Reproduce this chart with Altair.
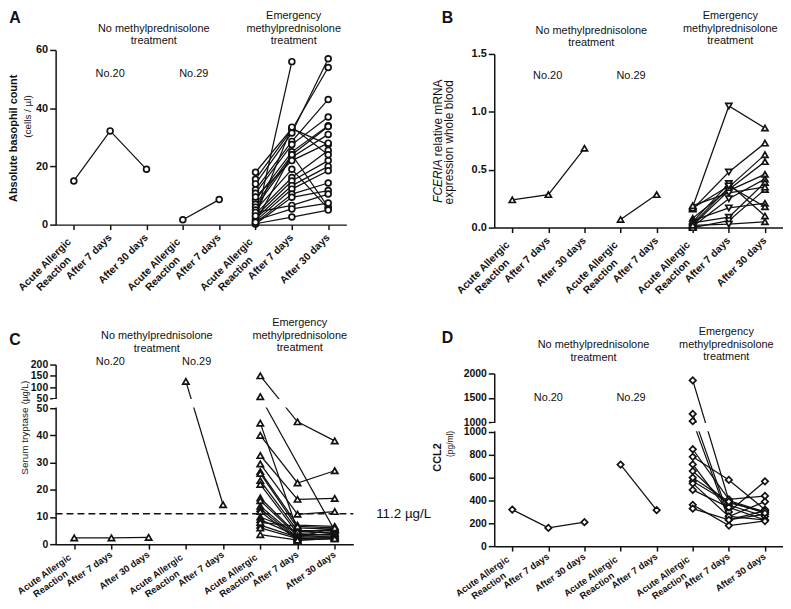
import altair as alt
import pandas as pd

FONT = "Liberation Sans"
INK = "#111111"

# ---------------- category axis (shared by all panels) ----------------
X_LINE1 = ["Acute Allergic", "After 7 days", "After 30 days", "Acute Allergic",
           "After 7 days", "Acute Allergic", "After 7 days", "After 30 days"]
X_LINE2 = ["Reaction", "", "", "Reaction", "", "Reaction", "", ""]

# ---------------- Panel A: absolute basophil count ----------------
A_NO20 = [15, 32.2, 19]
A_NO29 = [1.7, 8.6]
A_AAR = [0.5, 18, 15.6, 14, 12, 10.8, 8.5, 7, 6, 5, 3.7, 2.8, 2, 1.2, 0.6, 0.2, 4.2, 1.5, 0.3, 3, 0.8, 9.5]
A_D7 = [56, 33, 32.6, 31.5, 28.6, 27.5, 25, 24, 23.2, 19, 16.2, 15, 13.4, 12.2, 10.5, 9.4, 6.6, 5.4, 2.6, 33.5, 24, 22]
A_D30 = [None, 27.5, 54, 57, 43, 37, 34, 6, 31, 5.5, 25.5, 22, 20, 18.5, 14.3, 11.7, 10.5, 7.4, 5, 24, 33.7, 28]

# ---------------- Panel B: FCER1A mRNA ----------------
B_NO20 = [0.24, 0.285, 0.685]
B_NO29 = [0.07, 0.285]
B_AAR = [0.18, 0.16, 0.05, 0.03, 0.08, 0.02, 0.01, 0.06, 0.04, 0.0, 0.02, 0.17, 0.19]
B_D7 = [1.05, 0.48, 0.38, 0.35, 0.33, 0.32, 0.25, 0.17, 0.09, 0.06, 0.03, 0.36, 0.30]
B_D30 = [0.86, 0.73, 0.10, 0.63, 0.57, 0.46, 0.42, 0.21, 0.39, 0.33, 0.05, 0.18, 0.35]

# ---------------- Panel C: serum tryptase ----------------
C_NO20 = [2.3, 2.3, 2.5]
C_NO29 = [125, 14.5]
C_AAR = [150, 57, 44.5, 40, 32.6, 29.5, 26.7, 26, 23.4, 22, 17, 16, 14, 13, 12, 10, 9, 7, 6, 3.5, 8]
C_D7 = [45, None, 5, 22.5, 16.5, 11, 7, 6, 5, 4, 3.5, 3, 2.5, 2, 1.5, 4.5, 3, 2.5, 2, 1.5, 6.5]
C_D30 = [38, 5, 4, 27, 16.8, 12, 6.5, 5.5, 5, 4.5, 3.5, 3, 6, 2.5, 2, 5.5, 4, 3, 2.5, 2, 6]
C_CUTOFF = 11.2

# ---------------- Panel D: CCL2 ----------------
D_NO20 = [320, 160, 210]
D_NO29 = [715, 315]
D_AAR = [1858, 1169, 1020, 849, 783, 716, 658, 568, 550, 493, 362, 328, 600]
D_D7 = [400, 260, 230, 410, 580, 300, 360, 380, 260, 340, 180, 230, 390]
D_D30 = [300, 230, 280, 440, 320, 568, 260, 300, 390, 230, 220, 310, 290]


def long_df(no20, no29, aar, d7, d30, down7=False):
    rows = []
    for i, v in enumerate(no20):
        rows.append(dict(pid="n20", pos=i, value=v, shape="up"))
    for i, v in enumerate(no29):
        rows.append(dict(pid="n29", pos=3 + i, value=v, shape="up"))
    for k, vals in enumerate(zip(aar, d7, d30)):
        for j, v in enumerate(vals):
            if v is None:
                continue
            shp = "down" if (down7 and j == 1) else "up"
            rows.append(dict(pid=f"e{k}", pos=5 + j, value=v, shape=shp))
    return pd.DataFrame(rows)


LBL = pd.DataFrame({"pos": list(range(8)), "l1": X_LINE1, "l2": X_LINE2})


def make_x():
    return alt.X("pos:O",
                 scale=alt.Scale(type="point", padding=0.5, domain=list(range(8))),
                 axis=alt.Axis(title=None, labels=False, grid=False, domainColor=INK,
                               domainWidth=1.5, tickColor=INK, tickWidth=1.5, tickSize=5))


def text_layer(s, x, y, size=11, weight="normal", align="center", baseline="top",
               angle=0, style="normal", lh=12.5):
    return alt.Chart(pd.DataFrame({"t": [s]})).mark_text(
        font=FONT, fontSize=size, fontWeight=weight, fontStyle=style, align=align,
        baseline=baseline, angle=angle, lineBreak="\n", lineHeight=lh, color=INK
    ).encode(text="t:N", x=alt.value(x), y=alt.value(y))


def panel(df, W, H, yscale, yvalues, label_expr=None, label_size=11, fmt=None,
          gap=None, shape="circle", shape_field=False, size=40, extra=None,
          texts=None, xlab=None):
    ax_kw = dict(title=None, grid=False, values=yvalues, domain=True,
                 domainColor=INK, domainWidth=1.5, tickColor=INK, tickWidth=1.5,
                 tickSize=6, labelFont=FONT, labelFontWeight="bold",
                 labelFontSize=label_size, labelColor=INK, labelPadding=2,
                 labelOverlap=False)
    if label_expr:
        ax_kw["labelExpr"] = label_expr
    if fmt:
        ax_kw["format"] = fmt

    def Y(field="value:Q"):
        return alt.Y(field, scale=yscale, axis=alt.Axis(**ax_kw))

    X = make_x

    layers = []
    base = alt.Chart(df)
    layers.append(base.mark_line(color=INK, strokeWidth=1.25).encode(
        x=X(), y=Y(), detail="pid:N", order="pos:Q"))
    if gap is not None:
        # white band that opens the axis break (through the y scale)
        layers.append(alt.Chart(pd.DataFrame({"lo": [gap[0]], "hi": [gap[1]]})).mark_rect(
            color="white").encode(
            x=alt.value(-3), x2=alt.value(W), y=Y("lo:Q"), y2="hi:Q"))
    if extra:
        layers.extend(extra(Y))
    pt_kw = dict(size=size, filled=False, fill="white", fillOpacity=1, stroke=INK,
                 strokeWidth=1.7, opacity=1)
    if shape_field:
        layers.append(base.mark_point(**pt_kw).encode(
            x=X(), y=Y(),
            shape=alt.Shape("shape:N", scale=alt.Scale(domain=["up", "down"],
                                                       range=["triangle-up", "triangle-down"]),
                            legend=None)))
    else:
        layers.append(base.mark_point(shape=shape, **pt_kw).encode(x=X(), y=Y()))

    fs, ang, off, dx1, dx2, dy2 = xlab or (10.5, 315, 11.5, -6, -19, 12.7)
    lbl_kw = dict(angle=ang, align="right", baseline="middle", font=FONT, fontSize=fs,
                  fontWeight="bold", color=INK)
    lbl = alt.Chart(LBL)
    layers.append(lbl.transform_filter("datum.l2 == ''").mark_text(**lbl_kw).encode(
        x=X(), y=alt.value(H + off), text="l1:N"))
    layers.append(lbl.transform_filter("datum.l2 != ''").mark_text(dx=dx1, **lbl_kw).encode(
        x=X(), y=alt.value(H + off), text="l1:N"))
    layers.append(lbl.transform_filter("datum.l2 != ''").mark_text(dx=dx2, dy=dy2, **lbl_kw).encode(
        x=X(), y=alt.value(H + off), text="l2:N"))
    if texts:
        layers.extend(texts)
    return alt.layer(*layers).properties(width=W, height=H)


ROW2_XLAB = (9.5, 325, 9.5, -5, -17, 11.5)

# ---------------- Panel A ----------------
WA, HA = 293, 176
sA = WA / 8
pA = panel(long_df(A_NO20, A_NO29, A_AAR, A_D7, A_D30), WA, HA,
           alt.Scale(domain=[0, 60], range=[HA, 0], nice=False, zero=False),
           [0, 20, 40, 60], shape="circle", size=34,
           texts=[
               text_layer("A", -41, -32, size=16, weight="bold", baseline="middle"),
               text_layer("No methylprednisolone\ntreatment", sA * 2.7, -27.5),
               text_layer("Emergency\nmethylprednisolone\ntreatment", sA * 6.55, -40),
               text_layer("No.20", sA * 1.5, 24, baseline="middle"),
               text_layer("No.29", sA * 3.8, 24, baseline="middle"),
               text_layer("Absolute basophil count", -41.5, 89, weight="bold", angle=270,
                          baseline="middle"),
               text_layer("(cells / \u00b5l)", -28, 67, size=10, angle=270, baseline="middle"),
           ])

# ---------------- Panel B ----------------
WB, HB = 291, 179
sB = WB / 8
pB = panel(long_df(B_NO20, B_NO29, B_AAR, B_D7, B_D30, down7=True), WB, HB,
           alt.Scale(domain=[0, 1.5], range=[HB, 4], nice=False, zero=False),
           [0, 0.5, 1.0, 1.5], fmt=".1f", shape_field=True, size=38,
           texts=[
               text_layer("B", -47, -32, size=16, weight="bold", baseline="middle"),
               text_layer("No methylprednisolone\ntreatment", sB * 2.69, -25.5),
               text_layer("Emergency\nmethylprednisolone\ntreatment", sB * 6.54, -40),
               text_layer("No.20", sB * 1.48, 26, baseline="middle"),
               text_layer("No.29", sB * 3.79, 26, baseline="middle"),
               text_layer("FCERIA", -57, 154, size=12, style="italic", angle=270,
                          align="left", baseline="middle"),
               text_layer("relative mRNA", -57, 107, size=12, angle=270, align="left",
                          baseline="middle"),
               text_layer("expression whole blood", -46, 93, size=12, angle=270,
                          baseline="middle"),
           ])

# ---------------- Panel C ----------------
WC, HC = 300, 181
sC = WC / 8
c_scale = alt.Scale(domain=[0, 50, 50.01, 200], range=[HC, 44, 34, 0], nice=False, zero=False)


def c_extra(Y):
    cut = pd.DataFrame({"v": [C_CUTOFF]})
    return [
        alt.Chart(cut).mark_rule(color=INK, strokeWidth=1.5, strokeDash=[7, 4]).encode(
            x=alt.value(0), x2=alt.value(WC), y=Y("v:Q")),
        alt.Chart(cut).mark_text(text="11.2 \u00b5g/L", font=FONT, fontSize=13.5, align="left",
                                 baseline="middle", color=INK).encode(
            x=alt.value(WC + 23), y=Y("v:Q")),
    ]


pC = panel(long_df(C_NO20, C_NO29, C_AAR, C_D7, C_D30), WC, HC, c_scale,
           [0, 10, 20, 30, 40, 50, 50.01, 100, 150, 200],
           label_expr="round(datum.value) + ''", label_size=10.5,
           gap=(50.0008, 50.0092), shape="triangle-up", size=40, extra=c_extra,
           xlab=ROW2_XLAB,
           texts=[
               text_layer("C", -41, -25, size=16, weight="bold", baseline="middle"),
               text_layer("No methylprednisolone\ntreatment", sC * 2.72, -34.5),
               text_layer("Emergency\nmethylprednisolone\ntreatment", sC * 6.56, -47.5),
               text_layer("No.20", sC * 1.47, -3, baseline="middle"),
               text_layer("No.29", sC * 3.79, -3, baseline="middle"),
               text_layer("Serum tryptase", -31, 111, size=10, angle=270, align="left",
                          baseline="middle"),
               text_layer("(\u00b5g/L)", -31, 40, size=9, angle=270, align="left",
                          baseline="middle"),
           ])

# ---------------- Panel D ----------------
WD, HD = 291, 183
sD = WD / 8
d_scale = alt.Scale(domain=[0, 1000, 1000.01, 2000], range=[HD, 68, 58, 9], nice=False, zero=False)
pD = panel(long_df(D_NO20, D_NO29, D_AAR, D_D7, D_D30), WD, HD, d_scale,
           [0, 200, 400, 600, 800, 1000, 1000.01, 1500, 2000],
           label_expr="round(datum.value) + ''", label_size=10.5,
           gap=(1000.0008, 1000.0092), shape="diamond", size=42, xlab=ROW2_XLAB,
           texts=[
               text_layer("D", -47, -27, size=16, weight="bold", baseline="middle"),
               text_layer("No methylprednisolone\ntreatment", sD * 2.75, -25.5),
               text_layer("Emergency\nmethylprednisolone\ntreatment", sD * 6.43, -38.5),
               text_layer("No.20", sD * 1.5, 34, baseline="middle"),
               text_layer("No.29", sD * 3.79, 34, baseline="middle"),
               text_layer("CCL2", -57, 108, size=11, weight="bold", angle=270, align="left",
                          baseline="middle"),
               text_layer("(pg/ml)", -45, 80, size=8.5, angle=270, baseline="middle"),
           ])

chart = alt.concat(
    pA, pB, pC, pD, columns=2, spacing={"row": 134, "column": 142},
    bounds="flush", align="all"
).properties(padding=0, background="white").configure_view(stroke=None)

chart.save("out.html", embed_options={"renderer": "svg", "actions": False})
